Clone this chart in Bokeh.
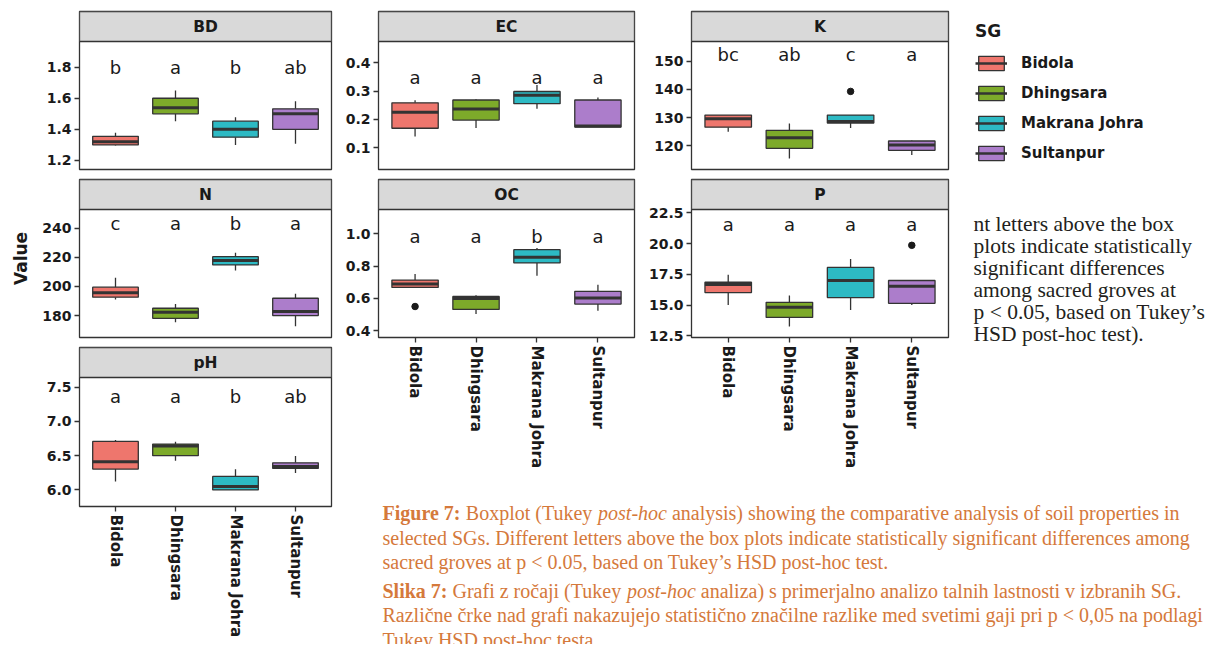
from bokeh.plotting import figure
from bokeh.models import (ColumnDataSource, FactorRange, Range1d, FixedTicker,
                          PrintfTickFormatter, Legend, LegendItem, BoxAnnotation, Label)
from bokeh.layouts import row, column
from bokeh.core.properties import value
from bokeh.embed import file_html
from bokeh.resources import INLINE

# ---------------- data ----------------
groves = ["Bidola", "Dhingsara", "Makrana Johra", "Sultanpur"]
colors = ["#EE766D", "#7DAA2A", "#2DBAC4", "#AC7DCB"]

lower = {
    "BD": [1.297, 1.453, 1.30, 1.307],
    "EC": [0.140, 0.170, 0.238, 0.173],
    "K": [125.0, 115.5, 126.3, 116.7],
    "N": [191.0, 175.4, 211.0, 172.6],
    "OC": [0.668, 0.503, 0.741, 0.524],
    "P": [15.02, 13.27, 14.61, 15.02],
    "pH": [6.123, 6.425, 6.0, 6.245],
}
q1 = {
    "BD": [1.30, 1.50, 1.35, 1.40],
    "EC": [0.169, 0.198, 0.256, 0.173],
    "K": [126.6, 119.1, 128.1, 118.4],
    "N": [192.6, 178.1, 214.8, 180.0],
    "OC": [0.668, 0.532, 0.820, 0.565],
    "P": [16.02, 14.0, 15.61, 15.15],
    "pH": [6.304, 6.50, 6.0, 6.313],
}
median = {
    "BD": [1.32, 1.539, 1.40, 1.50],
    "EC": [0.226, 0.237, 0.286, 0.177],
    "K": [129.6, 122.9, 128.6, 120.3],
    "N": [195.6, 182.3, 217.8, 182.7],
    "OC": [0.689, 0.600, 0.855, 0.602],
    "P": [16.67, 14.82, 17.0, 16.54],
    "pH": [6.411, 6.64, 6.05, 6.34],
}
q3 = {
    "BD": [1.355, 1.60, 1.453, 1.532],
    "EC": [0.259, 0.269, 0.299, 0.269],
    "K": [130.9, 125.5, 130.9, 121.7],
    "N": [199.5, 185.0, 220.5, 191.9],
    "OC": [0.714, 0.612, 0.902, 0.644],
    "P": [16.86, 15.23, 18.06, 17.0],
    "pH": [6.708, 6.67, 6.196, 6.396],
}
upper = {
    "BD": [1.378, 1.65, 1.478, 1.581],
    "EC": [0.268, 0.272, 0.322, 0.278],
    "K": [130.9, 127.9, 130.9, 121.9],
    "N": [205.9, 188.0, 223.1, 194.9],
    "OC": [0.752, 0.619, 0.913, 0.685],
    "P": [17.47, 15.78, 18.74, 17.0],
    "pH": [6.728, 6.703, 6.30, 6.494],
}
outlier_grove = {"K": ["Makrana Johra"], "OC": ["Bidola"], "P": ["Sultanpur"]}
outlier_value = {"K": [139.3], "OC": [0.550], "P": [19.86]}

letters = {
    "BD": ["b", "a", "b", "ab"],
    "EC": ["a", "a", "a", "a"],
    "K": ["bc", "ab", "c", "a"],
    "N": ["c", "a", "b", "a"],
    "OC": ["a", "a", "b", "a"],
    "P": ["a", "a", "a", "a"],
    "pH": ["a", "a", "b", "ab"],
}
letter_height = {"BD": 1.80, "EC": 0.347, "K": 152.4, "N": 243.4,
                 "OC": 0.985, "P": 21.58, "pH": 7.36}

y_limits = {"BD": (1.142, 1.965), "EC": (0.023, 0.476), "K": (111.6, 157.0),
            "N": (164.9, 252.9), "OC": (0.358, 1.151), "P": (12.37, 22.77),
            "pH": (5.757, 7.643)}
y_ticks = {"BD": [1.2, 1.4, 1.6, 1.8], "EC": [0.1, 0.2, 0.3, 0.4],
           "K": [120, 130, 140, 150], "N": [180, 200, 220, 240],
           "OC": [0.4, 0.6, 0.8, 1.0], "P": [12.5, 15.0, 17.5, 20.0, 22.5],
           "pH": [6.0, 6.5, 7.0, 7.5]}
tick_format = {"BD": "%.1f", "EC": "%.1f", "K": "%d", "N": "%d",
               "OC": "%.1f", "P": "%.1f", "pH": "%.1f"}

y_title = "Value"
legend_title = "SG"

side_note_lines = [
    "nt letters above the box",
    "plots indicate statistically",
    "significant differences",
    "among sacred groves at",
    "p < 0.05, based on Tukey’s",
    "HSD post-hoc test).",
]

caption_lines = [
    [("Figure 7:", "bold"), ("Boxplot (Tukey", "normal"), ("post-hoc", "italic"),
     ("analysis) showing the comparative analysis of soil properties in", "normal")],
    [("selected SGs. Different letters above the box plots indicate statistically significant differences among", "normal")],
    [("sacred groves at p < 0.05, based on Tukey’s HSD post-hoc test.", "normal")],
    [("Slika 7:", "bold"), ("Grafi z ročaji (Tukey", "normal"), ("post-hoc", "italic"),
     ("analiza) s primerjalno analizo talnih lastnosti v izbranih SG.", "normal")],
    [("Različne črke nad grafi nakazujejo statistično značilne razlike med svetimi gaji pri p < 0,05 na podlagi", "normal")],
    [("Tukey HSD post-hoc testa.", "normal")],
]

# ---------------- styling ----------------
DARK = "#333333"
INK = "#1a1a1a"
SANS = "DejaVu Sans"
SERIF = "Liberation Serif"
CAPTION_COLOR = "#D5793B"
STRIP_H = 30


def make_panel(name, width, left, right, top, plot_h, bottom, show_x, ylabel=None):
    ylo, yhi = y_limits[name]
    per_px = (yhi - ylo) / plot_h
    ytop = yhi + STRIP_H * per_px
    p = figure(width=width, height=top + STRIP_H + plot_h + bottom,
               x_range=FactorRange(factors=groves, range_padding=0.05),
               y_range=Range1d(ylo, ytop),
               min_border_left=left, min_border_right=right,
               min_border_top=top, min_border_bottom=bottom,
               x_axis_location="below" if show_x else None,
               toolbar_location=None, output_backend="svg",
               background_fill_color="white", border_fill_color="white",
               outline_line_color=DARK, outline_line_width=1.3)
    p.grid.visible = False

    # facet strip
    p.add_layout(BoxAnnotation(bottom=yhi, fill_color="#D9D9D9", fill_alpha=1.0,
                               line_color=DARK, line_width=1.3, line_alpha=1.0))
    p.add_layout(Label(x=len(groves) / 2, y=yhi + STRIP_H / 2 * per_px, text=name,
                       text_align="center", text_baseline="middle",
                       text_font=SANS, text_font_style="bold",
                       text_font_size="15.5px", text_color=INK))

    ax = p.yaxis[0]
    ax.ticker = FixedTicker(ticks=y_ticks[name])
    ax.formatter = PrintfTickFormatter(format=tick_format[name])
    ax.axis_line_color = None
    ax.major_tick_line_color = DARK
    ax.major_tick_line_width = 1.3
    ax.major_tick_out = 5
    ax.major_tick_in = 0
    ax.minor_tick_line_color = None
    ax.major_label_standoff = 3
    ax.major_label_text_font = SANS
    ax.major_label_text_font_style = "bold"
    ax.major_label_text_font_size = "14px"
    ax.major_label_text_color = INK
    if ylabel:
        ax.axis_label = ylabel
        ax.axis_label_text_font = SANS
        ax.axis_label_text_font_style = "bold"
        ax.axis_label_text_font_size = "17px"
        ax.axis_label_text_color = INK
        ax.axis_label_standoff = 8

    if show_x:
        xa = p.xaxis[0]
        xa.axis_line_color = None
        xa.major_tick_line_color = DARK
        xa.major_tick_line_width = 1.3
        xa.major_tick_out = 5
        xa.major_tick_in = 0
        xa.minor_tick_line_color = None
        xa.major_label_standoff = 3
        xa.major_label_orientation = "vertical"
        xa.major_label_text_font = SANS
        xa.major_label_text_font_style = "bold"
        xa.major_label_text_font_size = "15px"
        xa.major_label_text_color = INK

    src = ColumnDataSource(dict(sg=groves, lo=lower[name], q1=q1[name],
                                med=median[name], q3=q3[name], hi=upper[name],
                                color=colors, letter=letters[name],
                                ly=[letter_height[name]] * len(groves)))
    p.segment(x0="sg", y0="q3", x1="sg", y1="hi", source=src,
              line_color=DARK, line_width=1.3)
    p.segment(x0="sg", y0="lo", x1="sg", y1="q1", source=src,
              line_color=DARK, line_width=1.3)
    p.vbar(x="sg", bottom="q1", top="q3", width=0.76, source=src,
           fill_color="color", line_color=DARK, line_width=1.3)
    p.rect(x="sg", y="med", width=0.76, height=3, height_units="screen", source=src,
           fill_color=DARK, line_color=None)
    if name in outlier_grove:
        p.scatter(x=outlier_grove[name], y=outlier_value[name], size=6.5,
                  fill_color=INK, line_color=INK)
    p.text(x="sg", y="ly", text="letter", source=src, text_align="center",
           text_baseline="middle", text_font=value(SANS), text_font_size="18px",
           text_color=INK)
    return p


# ---------------- panel layout ----------------
C1 = dict(width=334, left=67, right=11)
C2 = dict(width=298, left=35, right=6)
C3 = dict(width=315, left=51, right=7)

col1 = column(
    make_panel("BD", C1["width"], C1["left"], C1["right"], 3, 128, 9, False),
    make_panel("N", C1["width"], C1["left"], C1["right"], 1, 128, 9, False, ylabel=y_title),
    make_panel("pH", C1["width"], C1["left"], C1["right"], 1, 129, 138, True),
    spacing=0,
)
col2 = column(
    make_panel("EC", C2["width"], C2["left"], C2["right"], 3, 128, 9, False),
    make_panel("OC", C2["width"], C2["left"], C2["right"], 1, 128, 163, True),
    spacing=0,
)
col3 = column(
    make_panel("K", C3["width"], C3["left"], C3["right"], 3, 128, 9, False),
    make_panel("P", C3["width"], C3["left"], C3["right"], 1, 128, 163, True),
    spacing=0,
)

# ---------------- legend + side note ----------------
NAN = float("nan")
LF_LEFT, LF_TOP = 10, 3
lf = figure(width=256, height=492, x_range=Range1d(955 + LF_LEFT, 1211),
            y_range=Range1d(500, 8 + LF_TOP),
            x_axis_location=None, y_axis_location=None, toolbar_location=None,
            output_backend="svg", outline_line_color=None, min_border=0,
            min_border_left=LF_LEFT, min_border_top=LF_TOP,
            background_fill_color="white", border_fill_color="white")
lf.grid.visible = False
items = []
for g, c in zip(groves, colors):
    rb = lf.vbar(x=[NAN], top=[NAN], bottom=[NAN], width=1, fill_color=c,
                 line_color=DARK, line_width=1.3)
    rm = lf.segment(x0=[NAN], y0=[NAN], x1=[NAN], y1=[NAN], line_color=DARK, line_width=2.5)
    items.append(LegendItem(label=value(g), renderers=[rb, rm]))
leg = Legend(items=items, title=legend_title, location="top_left", orientation="vertical",
             border_line_color=None, background_fill_alpha=0,
             title_text_font=SANS, title_text_font_style="bold",
             title_text_font_size="17px", title_text_color=INK,
             label_text_font=SANS, label_text_font_style="bold",
             label_text_font_size="15px", label_text_color=INK,
             glyph_width=32, glyph_height=18, label_height=18, label_standoff=14,
             spacing=12, padding=0, margin=10, title_standoff=13)
lf.add_layout(leg)

note_x0, note_y0, note_step = 973, 223.5, 22
lf.text(x=[note_x0] * len(side_note_lines),
        y=[note_y0 + note_step * i for i in range(len(side_note_lines))],
        text=side_note_lines, text_align="left", text_baseline="alphabetic",
        text_font=value(SERIF), text_font_size="21.5px", text_color="#231F20")

# ---------------- caption ----------------
CAP_SIZE = 20
W_REG = {' ': 250, 'B': 667, 'o': 500, 'x': 500, 'p': 500, 'l': 278, 't': 278,
         '(': 333, 'T': 611, 'u': 500, 'k': 500, 'e': 444, 'y': 500, 'G': 722,
         'r': 333, 'a': 444, 'f': 333, 'i': 278, 'z': 444, 'č': 444, 'j': 278}
W_BOLD = {' ': 250, 'F': 611, 'i': 278, 'g': 500, 'u': 556, 'r': 444, 'e': 444,
          '7': 500, ':': 333, 'S': 556, 'l': 278, 'k': 556, 'a': 500}
W_ITAL = {' ': 250, 'p': 500, 'o': 500, 's': 389, 't': 278, '-': 333, 'h': 500, 'c': 444}
TABLES = {"normal": W_REG, "bold": W_BOLD, "italic": W_ITAL}


def seg_width(txt, style):
    tab = TABLES[style]
    return sum(tab.get(ch, 480) for ch in txt) * CAP_SIZE / 1000.0


cap_x0 = 382
cap_baselines = [512.5, 537, 561.5, 590, 614.5, 639.5]
seg = {"normal": dict(x=[], y=[], text=[]), "bold": dict(x=[], y=[], text=[]),
       "italic": dict(x=[], y=[], text=[])}
for line, yb in zip(caption_lines, cap_baselines):
    x = cap_x0
    for txt, style in line:
        seg[style]["x"].append(x)
        seg[style]["y"].append(yb)
        seg[style]["text"].append(txt)
        x += seg_width(txt, style) + 250 * CAP_SIZE / 1000.0

cf = figure(width=869, height=144, x_range=Range1d(342, 1211), y_range=Range1d(644, 500),
            x_axis_location=None, y_axis_location=None, toolbar_location=None,
            output_backend="svg", outline_line_color=None, min_border=0,
            background_fill_color="white", border_fill_color="white")
cf.grid.visible = False
for style, d in seg.items():
    if d["text"]:
        cf.text(x=d["x"], y=d["y"], text=d["text"], text_align="left",
                text_baseline="alphabetic", text_font=value(SERIF),
                text_font_size=f"{CAP_SIZE}px", text_font_style=style,
                text_color=CAPTION_COLOR)

right_block = column(row(col2, col3, lf, spacing=0), cf, spacing=0)
layout = row(col1, right_block, spacing=0, margin=(8, 0, 0, 8))

open("out.html", "w", encoding="utf-8").write(file_html(layout, INLINE, title="Soil properties boxplots"))
